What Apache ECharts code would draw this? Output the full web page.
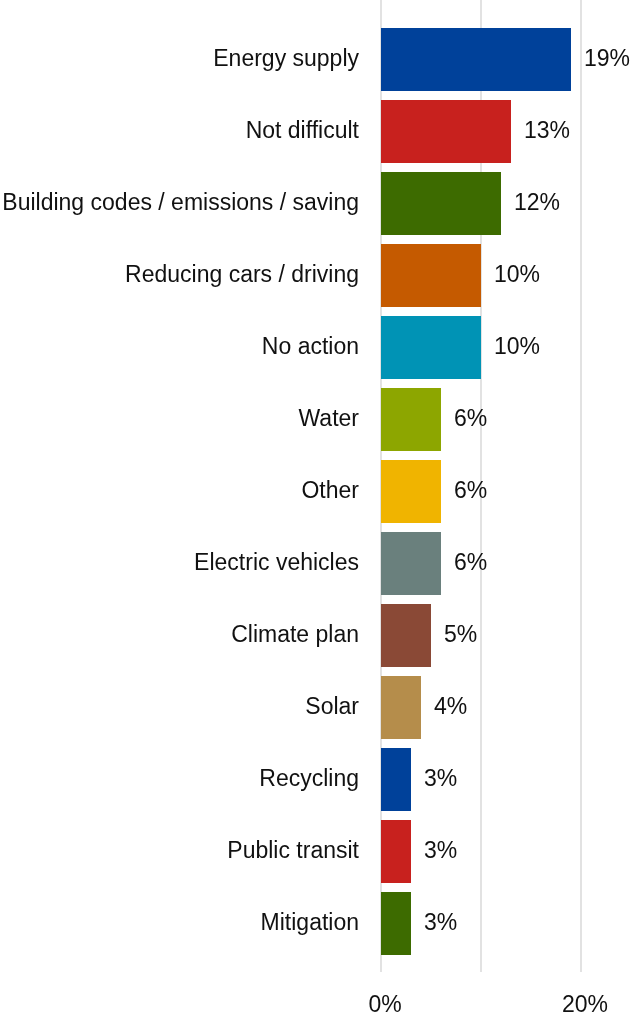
<!DOCTYPE html>
<html>
<head>
<meta charset="utf-8">
<script src="https://cdn.jsdelivr.net/npm/echarts@6/dist/echarts.min.js"></script>
<style>
  html, body { margin: 0; padding: 0; background: #fff; }
  #chart { width: 631px; height: 1017px; }
</style>
</head>
<body>
<div id="chart"></div>
<script>
// Responses by category (percent)
const categories = [
  'Energy supply', 'Not difficult', 'Building codes / emissions / saving',
  'Reducing cars / driving', 'No action', 'Water', 'Other',
  'Electric vehicles', 'Climate plan', 'Solar', 'Recycling',
  'Public transit', 'Mitigation'
];
const values = [19, 13, 12, 10, 10, 6, 6, 6, 5, 4, 3, 3, 3];
const barColors = [
  '#00419A', '#C8211E', '#3D6B00', '#C55A00', '#0093B5', '#8DA600',
  '#F0B400', '#6A807D', '#8A4936', '#B58D4B', '#00419A', '#C8211E', '#3D6B00'
];
const axisTicks = [0, 10, 20];
const shownTickLabels = [0, 20];

const font = '"Liberation Sans Narrow", "Arial Narrow", "Liberation Sans", Arial, sans-serif';
const fontSize = 23;

const chart = echarts.init(document.getElementById('chart'));
chart.setOption({
  animation: false,
  grid: [
    { left: 381, right: 50, top: 23.5, height: 936, containLabel: false, outerBoundsMode: 'none' },
    { left: 381, right: 50, top: 0, height: 972, containLabel: false, outerBoundsMode: 'none' }
  ],
  xAxis: [
    {
      gridIndex: 0, type: 'value',
      min: axisTicks[0], max: axisTicks[axisTicks.length - 1], interval: 10,
      axisLine: { show: false }, axisTick: { show: false },
      axisLabel: { show: false }, splitLine: { show: false }
    },
    {
      gridIndex: 1, type: 'value',
      min: axisTicks[0], max: axisTicks[axisTicks.length - 1], interval: 10,
      axisLine: { show: false }, axisTick: { show: false },
      splitLine: { show: true, lineStyle: { color: '#D9D9D9', width: 1.5 } },
      axisLabel: {
        margin: 22,
        padding: [0, 0, 0, 8],
        fontFamily: font, fontSize: fontSize, color: '#111',
        formatter: v => shownTickLabels.includes(v) ? v + '%' : ''
      }
    }
  ],
  yAxis: [
    {
      gridIndex: 0, type: 'category', data: categories, inverse: true,
      axisLine: { show: false }, axisTick: { show: false },
      axisLabel: { margin: 22, fontFamily: font, fontSize: fontSize, color: '#111' }
    },
    {
      gridIndex: 1, type: 'category', data: [''],
      axisLine: { show: false }, axisTick: { show: false }, axisLabel: { show: false }
    }
  ],
  series: [{
    type: 'bar',
    xAxisIndex: 0, yAxisIndex: 0,
    barCategoryGap: '12.5%',
    data: values.map((v, i) => ({ value: v, itemStyle: { color: barColors[i] } })),
    label: {
      show: true, position: 'right', distance: 13,
      fontFamily: font, fontSize: fontSize, color: '#111',
      formatter: p => p.value + '%'
    }
  }]
});
</script>
</body>
</html>
